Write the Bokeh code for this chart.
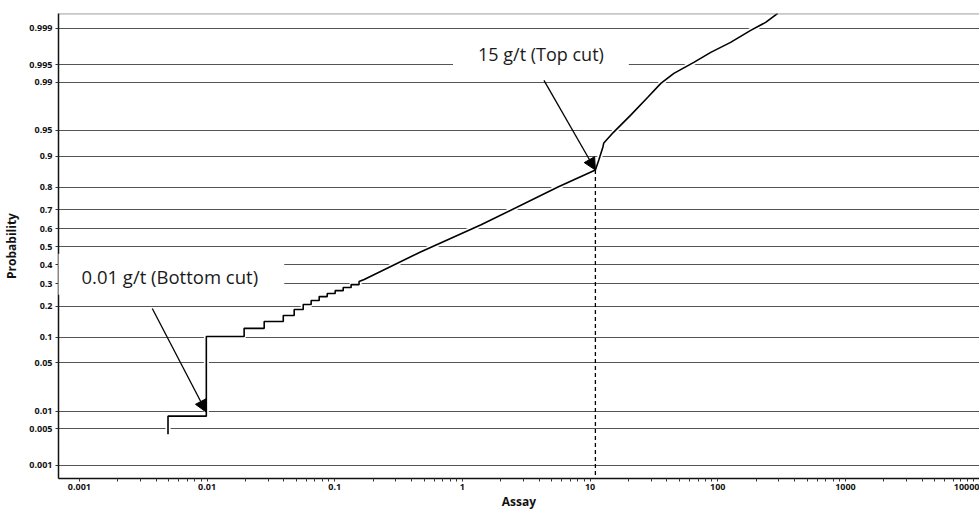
from statistics import NormalDist

from bokeh.plotting import figure
from bokeh.models import (Range1d, FixedTicker, CustomJSTickFormatter, BoxAnnotation,
                          Label, Arrow, NormalHead, Span)
from bokeh.embed import file_html
from bokeh.resources import INLINE

# ---------------- data ----------------
assay = [0.00494, 0.00494, 0.00986, 0.00986, 0.0195, 0.0195, 0.0280, 0.0280,
         0.0395, 0.0395, 0.0481, 0.0481, 0.0566, 0.0566, 0.0653, 0.0653,
         0.0755, 0.0755, 0.0873, 0.0873, 0.1007, 0.1007, 0.1164, 0.1164,
         0.1343, 0.1343, 0.155, 0.155,
         0.170, 0.474, 1.40, 5.60, 11.0,
         11.7, 12.6, 12.8, 15.3, 20.8, 28.3, 35.8, 45.3, 64.9, 88.1, 126.0,
         181.0, 237.0, 295.0]
probability = [0.0040, 0.00825, 0.00825, 0.102, 0.102, 0.124, 0.124, 0.145,
               0.145, 0.165, 0.165, 0.187, 0.187, 0.207, 0.207, 0.223,
               0.223, 0.240, 0.240, 0.254, 0.254, 0.267, 0.267, 0.282,
               0.282, 0.296, 0.296, 0.311,
               0.321, 0.472, 0.622, 0.801, 0.861,
               0.890, 0.921, 0.929, 0.9476, 0.9687, 0.9828, 0.9896, 0.9929,
               0.99546, 0.99702, 0.99808, 0.99890, 0.99925, 0.99952]

y_tick_probs = [0.001, 0.005, 0.01, 0.05, 0.1, 0.2, 0.3, 0.4, 0.5, 0.6, 0.7,
                0.8, 0.9, 0.95, 0.99, 0.995, 0.999]
y_tick_labels = ["0.001", "0.005", "0.01", "0.05", "0.1", "0.2", "0.3", "0.4",
                 "0.5", "0.6", "0.7", "0.8", "0.9", "0.95", "0.99", "0.995", "0.999"]
x_ticks = [0.001, 0.01, 0.1, 1, 10, 100, 1000, 10000]
x_tick_labels = ["0.001", "0.01", "0.1", "1", "10", "100", "1000", "10000"]

bottom_cut_label = "0.01 g/t (Bottom cut)"
top_cut_label = "15 g/t (Top cut)"
top_cut_assay = 11.0
top_cut_prob = 0.861
bottom_cut_assay = 0.00986
bottom_cut_prob = 0.0096

# ---------------- probability transform ----------------
nd = NormalDist()
def probit(p):
    return nd.inv_cdf(p)

z_curve = [probit(p) for p in probability]
z_ticks = [probit(p) for p in y_tick_probs]

FONT = "Open Sans"
Y0, Y1 = -3.28, 3.30

p = figure(width=979, height=512, x_axis_type="log",
           x_range=Range1d(10 ** -3.164, 10 ** 4.050),
           y_range=Range1d(Y0, Y1),
           output_backend="svg", toolbar_location=None,
           min_border_left=57, min_border_right=0, min_border_top=13,
           min_border_bottom=33)
p.outline_line_color = None
p.background_fill_color = "white"
p.border_fill_color = "white"

# axes
p.xaxis.ticker = FixedTicker(ticks=x_ticks,
                             minor_ticks=[k * 10.0 ** d for d in range(-3, 4) for k in range(2, 10)])
p.xaxis.formatter = CustomJSTickFormatter(args=dict(vals=x_ticks, labs=x_tick_labels), code="""
    let best = 0, bd = 1e9;
    for (let i = 0; i < vals.length; i++) {
        const d = Math.abs(Math.log10(vals[i]) - Math.log10(tick));
        if (d < bd) { bd = d; best = i; }
    }
    return labs[best];
""")
p.yaxis.ticker = FixedTicker(ticks=z_ticks, minor_ticks=[])
p.yaxis.formatter = CustomJSTickFormatter(args=dict(zs=z_ticks, labs=y_tick_labels), code="""
    let best = 0, bd = 1e9;
    for (let i = 0; i < zs.length; i++) {
        const d = Math.abs(zs[i] - tick);
        if (d < bd) { bd = d; best = i; }
    }
    return labs[best];
""")

for ax in (p.xaxis[0], p.yaxis[0]):
    ax.axis_line_color = "#111111"
    ax.axis_line_width = 1.5
    ax.major_tick_in = 0
    ax.major_tick_out = 3
    ax.minor_tick_in = 0
    ax.minor_tick_out = 3
    ax.major_tick_line_color = "#333333"
    ax.minor_tick_line_color = "#333333"
    ax.major_label_text_font = FONT
    ax.major_label_text_font_size = "9px"
    ax.major_label_text_font_style = "bold"
    ax.major_label_text_color = "#111111"
    ax.axis_label_text_font = FONT
    ax.axis_label_text_font_style = "bold"
    ax.axis_label_text_color = "#111111"

p.xaxis.major_label_standoff = 2
p.xaxis.axis_label = "Assay"
p.xaxis.axis_label_text_font_size = "12px"
p.xaxis.axis_label_standoff = 0
p.yaxis.major_label_standoff = 3
p.yaxis.axis_label = "Probability"
p.yaxis.axis_label_text_font_size = "12px"
p.yaxis.axis_label_standoff = 6

# grid
p.xgrid.visible = False
p.ygrid.ticker = FixedTicker(ticks=z_ticks, minor_ticks=[])
p.ygrid.grid_line_color = "#555555"
p.ygrid.grid_line_width = 1.2

# top border line
p.add_layout(Span(location=Y1 - 0.004, dimension="width", line_color="#666666", line_width=1))

# white boxes behind annotation labels (they mask the grid)
p.add_layout(BoxAnnotation(left=10 ** -3.2, right=0.0402, bottom=-0.68, top=-0.10,
                           fill_color="white", fill_alpha=1.0, line_alpha=0))
p.add_layout(BoxAnnotation(left=0.844, right=20.1, bottom=2.40, top=2.95,
                           fill_color="white", fill_alpha=1.0, line_alpha=0))

# curve with white halo
p.line(assay, z_curve, line_color="white", line_width=5)
p.line(assay, z_curve, line_color="black", line_width=1.6)

# top-cut dashed marker
p.segment(x0=[top_cut_assay], y0=[probit(top_cut_prob)], x1=[top_cut_assay], y1=[Y0],
          line_color="black", line_width=1.3, line_dash="4 3")

# arrows
p.add_layout(Arrow(end=NormalHead(size=12, fill_color="black", line_color="black"),
                   x_start=0.00372, y_start=probit(0.191),
                   x_end=bottom_cut_assay, y_end=probit(bottom_cut_prob),
                   line_color="black", line_width=1.3))
p.add_layout(Arrow(end=NormalHead(size=12, fill_color="black", line_color="black"),
                   x_start=4.35, y_start=probit(0.9907),
                   x_end=top_cut_assay, y_end=probit(top_cut_prob),
                   line_color="black", line_width=1.3))

# annotation labels
p.add_layout(Label(x=0.001037, y=-0.416, text=bottom_cut_label, text_font=FONT,
                   text_font_size="18.5px", text_baseline="middle", text_align="left",
                   text_color="#1a1a1a"))
p.add_layout(Label(x=1.324, y=2.722, text=top_cut_label, text_font=FONT,
                   text_font_size="18px", text_baseline="middle", text_align="left",
                   text_color="#1a1a1a"))

open("out.html", "w").write(file_html(p, INLINE))
